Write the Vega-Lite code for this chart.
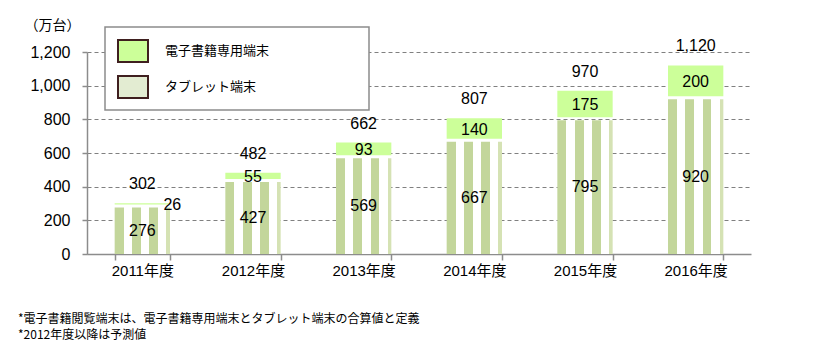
{
  "$schema": "https://vega.github.io/schema/vega-lite/v6.json",
  "width": 664,
  "height": 202,
  "autosize": {"type": "none"},
  "padding": {"left": 87, "top": 52, "right": 75, "bottom": 92},
  "background": "white",
  "title": {
    "text": ["*電子書籍閲覧端末は、電子書籍専用端末とタブレット端末の合算値と定義", "*2012年度以降は予測値"],
    "orient": "bottom",
    "anchor": "start",
    "frame": "group",
    "dx": -69,
    "offset": 36,
    "fontSize": 12,
    "font": "Noto Sans CJK JP",
    "fontWeight": "normal",
    "color": "#000000",
    "lineHeight": 16
  },
  "data": {
    "values": [
      {"year": "2011年度", "series": "タブレット端末", "value": 276},
      {"year": "2011年度", "series": "電子書籍専用端末", "value": 26},
      {"year": "2012年度", "series": "タブレット端末", "value": 427},
      {"year": "2012年度", "series": "電子書籍専用端末", "value": 55},
      {"year": "2013年度", "series": "タブレット端末", "value": 569},
      {"year": "2013年度", "series": "電子書籍専用端末", "value": 93},
      {"year": "2014年度", "series": "タブレット端末", "value": 667},
      {"year": "2014年度", "series": "電子書籍専用端末", "value": 140},
      {"year": "2015年度", "series": "タブレット端末", "value": 795},
      {"year": "2015年度", "series": "電子書籍専用端末", "value": 175},
      {"year": "2016年度", "series": "タブレット端末", "value": 920},
      {"year": "2016年度", "series": "電子書籍専用端末", "value": 200}
    ]
  },
  "transform": [
    {"stack": "value", "groupby": ["year"], "sort": [{"field": "series", "order": "ascending"}], "as": ["v0", "v1"]},
    {"calculate": "(datum.v0 + datum.v1) / 2", "as": "mid"}
  ],
  "encoding": {
    "x": {
      "field": "year",
      "type": "nominal",
      "sort": null,
      "title": null,
      "scale": {"paddingInner": 0.5, "paddingOuter": 0.25}
    }
  },
  "layer": [
    {
      "transform": [{"filter": "datum.series === 'タブレット端末'"}],
      "mark": {
        "type": "bar",
        "fill": {"gradient": "linear", "x1": 0, "y1": 0, "x2": 1, "y2": 0, "stops": [
          {"offset": 0, "color": "#c3d69b"}, {"offset": 0.165, "color": "#c3d69b"},
          {"offset": 0.165, "color": "#ffffff"}, {"offset": 0.315, "color": "#ffffff"},
          {"offset": 0.315, "color": "#c3d69b"}, {"offset": 0.475, "color": "#c3d69b"},
          {"offset": 0.475, "color": "#ffffff"}, {"offset": 0.625, "color": "#ffffff"},
          {"offset": 0.625, "color": "#c3d69b"}, {"offset": 0.785, "color": "#c3d69b"},
          {"offset": 0.785, "color": "#ffffff"}, {"offset": 0.935, "color": "#ffffff"},
          {"offset": 0.935, "color": "#d5e2b4"}, {"offset": 1, "color": "#d5e2b4"}
        ]}
      },
      "encoding": {
        "y": {"field": "v1", "type": "quantitative", "title": "（万台）", "scale": {"domain": [0, 1200]}, "axis": {"format": ",d", "values": [0, 200, 400, 600, 800, 1000, 1200]}},
        "y2": {"field": "v0"}
      }
    },
    {
      "transform": [{"filter": "datum.series === '電子書籍専用端末'"}],
      "mark": {"type": "bar", "y2Offset": -3},
      "encoding": {
        "y": {"field": "v1", "type": "quantitative", "title": "（万台）", "scale": {"domain": [0, 1200]}, "axis": {"format": ",d", "values": [0, 200, 400, 600, 800, 1000, 1200]}},
        "y2": {"field": "v0"},
        "fill": {
          "field": "series",
          "type": "nominal",
          "scale": {
            "domain": ["電子書籍専用端末", "タブレット端末"],
            "range": ["#ccff99", "#e3ecd2"]
          },
          "legend": {
            "title": null,
            "orient": "none",
            "legendX": 18,
            "legendY": -25,
            "padding": 8,
            "fillColor": "white",
            "strokeColor": "#8c8c8c",
            "symbolType": "M-1,-0.733H1V0.733H-1Z",
            "symbolSize": 900,
            "symbolStrokeColor": "#3f1f1f",
            "symbolStrokeWidth": 2,
            "symbolOffset": 4,
            "labelOffset": 16,
            "labelFontSize": 13,
            "labelFont": "Noto Sans CJK JP",
            "labelColor": "#000000",
            "labelLimit": 400,
            "rowPadding": 5,
            "labelExpr": "datum.label + '\u3000\u3000\u3000\u3000\u3000\u3000\u3000\u200b'",
            "encode": {
              "legend": {"update": {"strokeWidth": {"value": 1.5}}},
              "symbols": {
                "update": {
                  "stroke": {"value": "#3f1f1f"},
                  "strokeWidth": {"value": 2},
                  "opacity": {"value": 1},
                  "fill": {"signal": "datum.value === 'タブレット端末' ? {gradient: 'linear', x1: 0, y1: 0, x2: 1, y2: 0, stops: [{offset: 0, color: '#cfdcab'}, {offset: 0.05, color: '#cfdcab'}, {offset: 0.05, color: '#f4f8ec'}, {offset: 0.125, color: '#f4f8ec'}, {offset: 0.125, color: '#cfdcab'}, {offset: 0.175, color: '#cfdcab'}, {offset: 0.175, color: '#f4f8ec'}, {offset: 0.25, color: '#f4f8ec'}, {offset: 0.25, color: '#cfdcab'}, {offset: 0.3, color: '#cfdcab'}, {offset: 0.3, color: '#f4f8ec'}, {offset: 0.375, color: '#f4f8ec'}, {offset: 0.375, color: '#cfdcab'}, {offset: 0.425, color: '#cfdcab'}, {offset: 0.425, color: '#f4f8ec'}, {offset: 0.5, color: '#f4f8ec'}, {offset: 0.5, color: '#cfdcab'}, {offset: 0.55, color: '#cfdcab'}, {offset: 0.55, color: '#f4f8ec'}, {offset: 0.625, color: '#f4f8ec'}, {offset: 0.625, color: '#cfdcab'}, {offset: 0.675, color: '#cfdcab'}, {offset: 0.675, color: '#f4f8ec'}, {offset: 0.75, color: '#f4f8ec'}, {offset: 0.75, color: '#cfdcab'}, {offset: 0.8, color: '#cfdcab'}, {offset: 0.8, color: '#f4f8ec'}, {offset: 0.875, color: '#f4f8ec'}, {offset: 0.875, color: '#cfdcab'}, {offset: 0.925, color: '#cfdcab'}, {offset: 0.925, color: '#f4f8ec'}, {offset: 1, color: '#f4f8ec'}]} : '#ccff99'"}
                }
              }
            }
          }
        }
      }
    },
    {
      "transform": [{"filter": "datum.series === 'タブレット端末' || datum.year !== '2011年度'"}],
      "mark": {"type": "text", "font": "Liberation Sans", "fontSize": 16, "color": "#000000", "baseline": "middle"},
      "encoding": {
        "y": {"field": "mid", "type": "quantitative", "title": "（万台）", "scale": {"domain": [0, 1200]}, "axis": {"format": ",d", "values": [0, 200, 400, 600, 800, 1000, 1200]}},
        "text": {"field": "value", "type": "quantitative"}
      }
    },
    {
      "transform": [{"filter": "datum.series === '電子書籍専用端末' && datum.year === '2011年度'"}],
      "mark": {"type": "text", "font": "Liberation Sans", "fontSize": 16, "color": "#000000", "baseline": "middle", "dx": 30},
      "encoding": {
        "y": {"field": "mid", "type": "quantitative", "title": "（万台）", "scale": {"domain": [0, 1200]}, "axis": {"format": ",d", "values": [0, 200, 400, 600, 800, 1000, 1200]}},
        "text": {"field": "value", "type": "quantitative"}
      }
    },
    {
      "transform": [{"aggregate": [{"op": "sum", "field": "value", "as": "total"}], "groupby": ["year"]}],
      "mark": {"type": "text", "font": "Liberation Sans", "fontSize": 16, "color": "#000000", "baseline": "middle", "dy": -19},
      "encoding": {
        "y": {"field": "total", "type": "quantitative", "title": "（万台）", "scale": {"domain": [0, 1200]}, "axis": {"format": ",d", "values": [0, 200, 400, 600, 800, 1000, 1200]}},
        "text": {"field": "total", "type": "quantitative", "format": ","}
      }
    }
  ],
  "config": {
    "view": {"stroke": null},
    "axisY": {
      "grid": true,
      "gridDash": [4, 3],
      "gridColor": "#808080",
      "gridWidth": 1,
      "gridOpacity": 1,
      "domainColor": "#8c8c8c",
      "domainWidth": 1.5,
      "tickColor": "#8c8c8c",
      "tickSize": 5,
      "tickWidth": 1.5,
      "labelPadding": 12,
      "labelFontSize": 16,
      "labelFont": "Liberation Sans",
      "labelColor": "#000000",
      "titleAngle": 0,
      "titleX": -35,
      "titleY": -27,
      "titleAlign": "center",
      "titleBaseline": "middle",
      "titleFontSize": 14,
      "titleFontWeight": "normal",
      "titleFont": "Noto Sans CJK JP",
      "titleColor": "#000000"
    },
    "axisX": {
      "grid": false,
      "domainColor": "#8c8c8c",
      "domainWidth": 1.5,
      "tickColor": "#8c8c8c",
      "tickSize": 6,
      "tickWidth": 1.5,
      "tickBand": "extent",
      "labelAngle": 0,
      "labelFontSize": 15,
      "labelFont": "Liberation Sans, Noto Sans CJK JP",
      "labelColor": "#000000",
      "labelPadding": 3
    }
  }
}
